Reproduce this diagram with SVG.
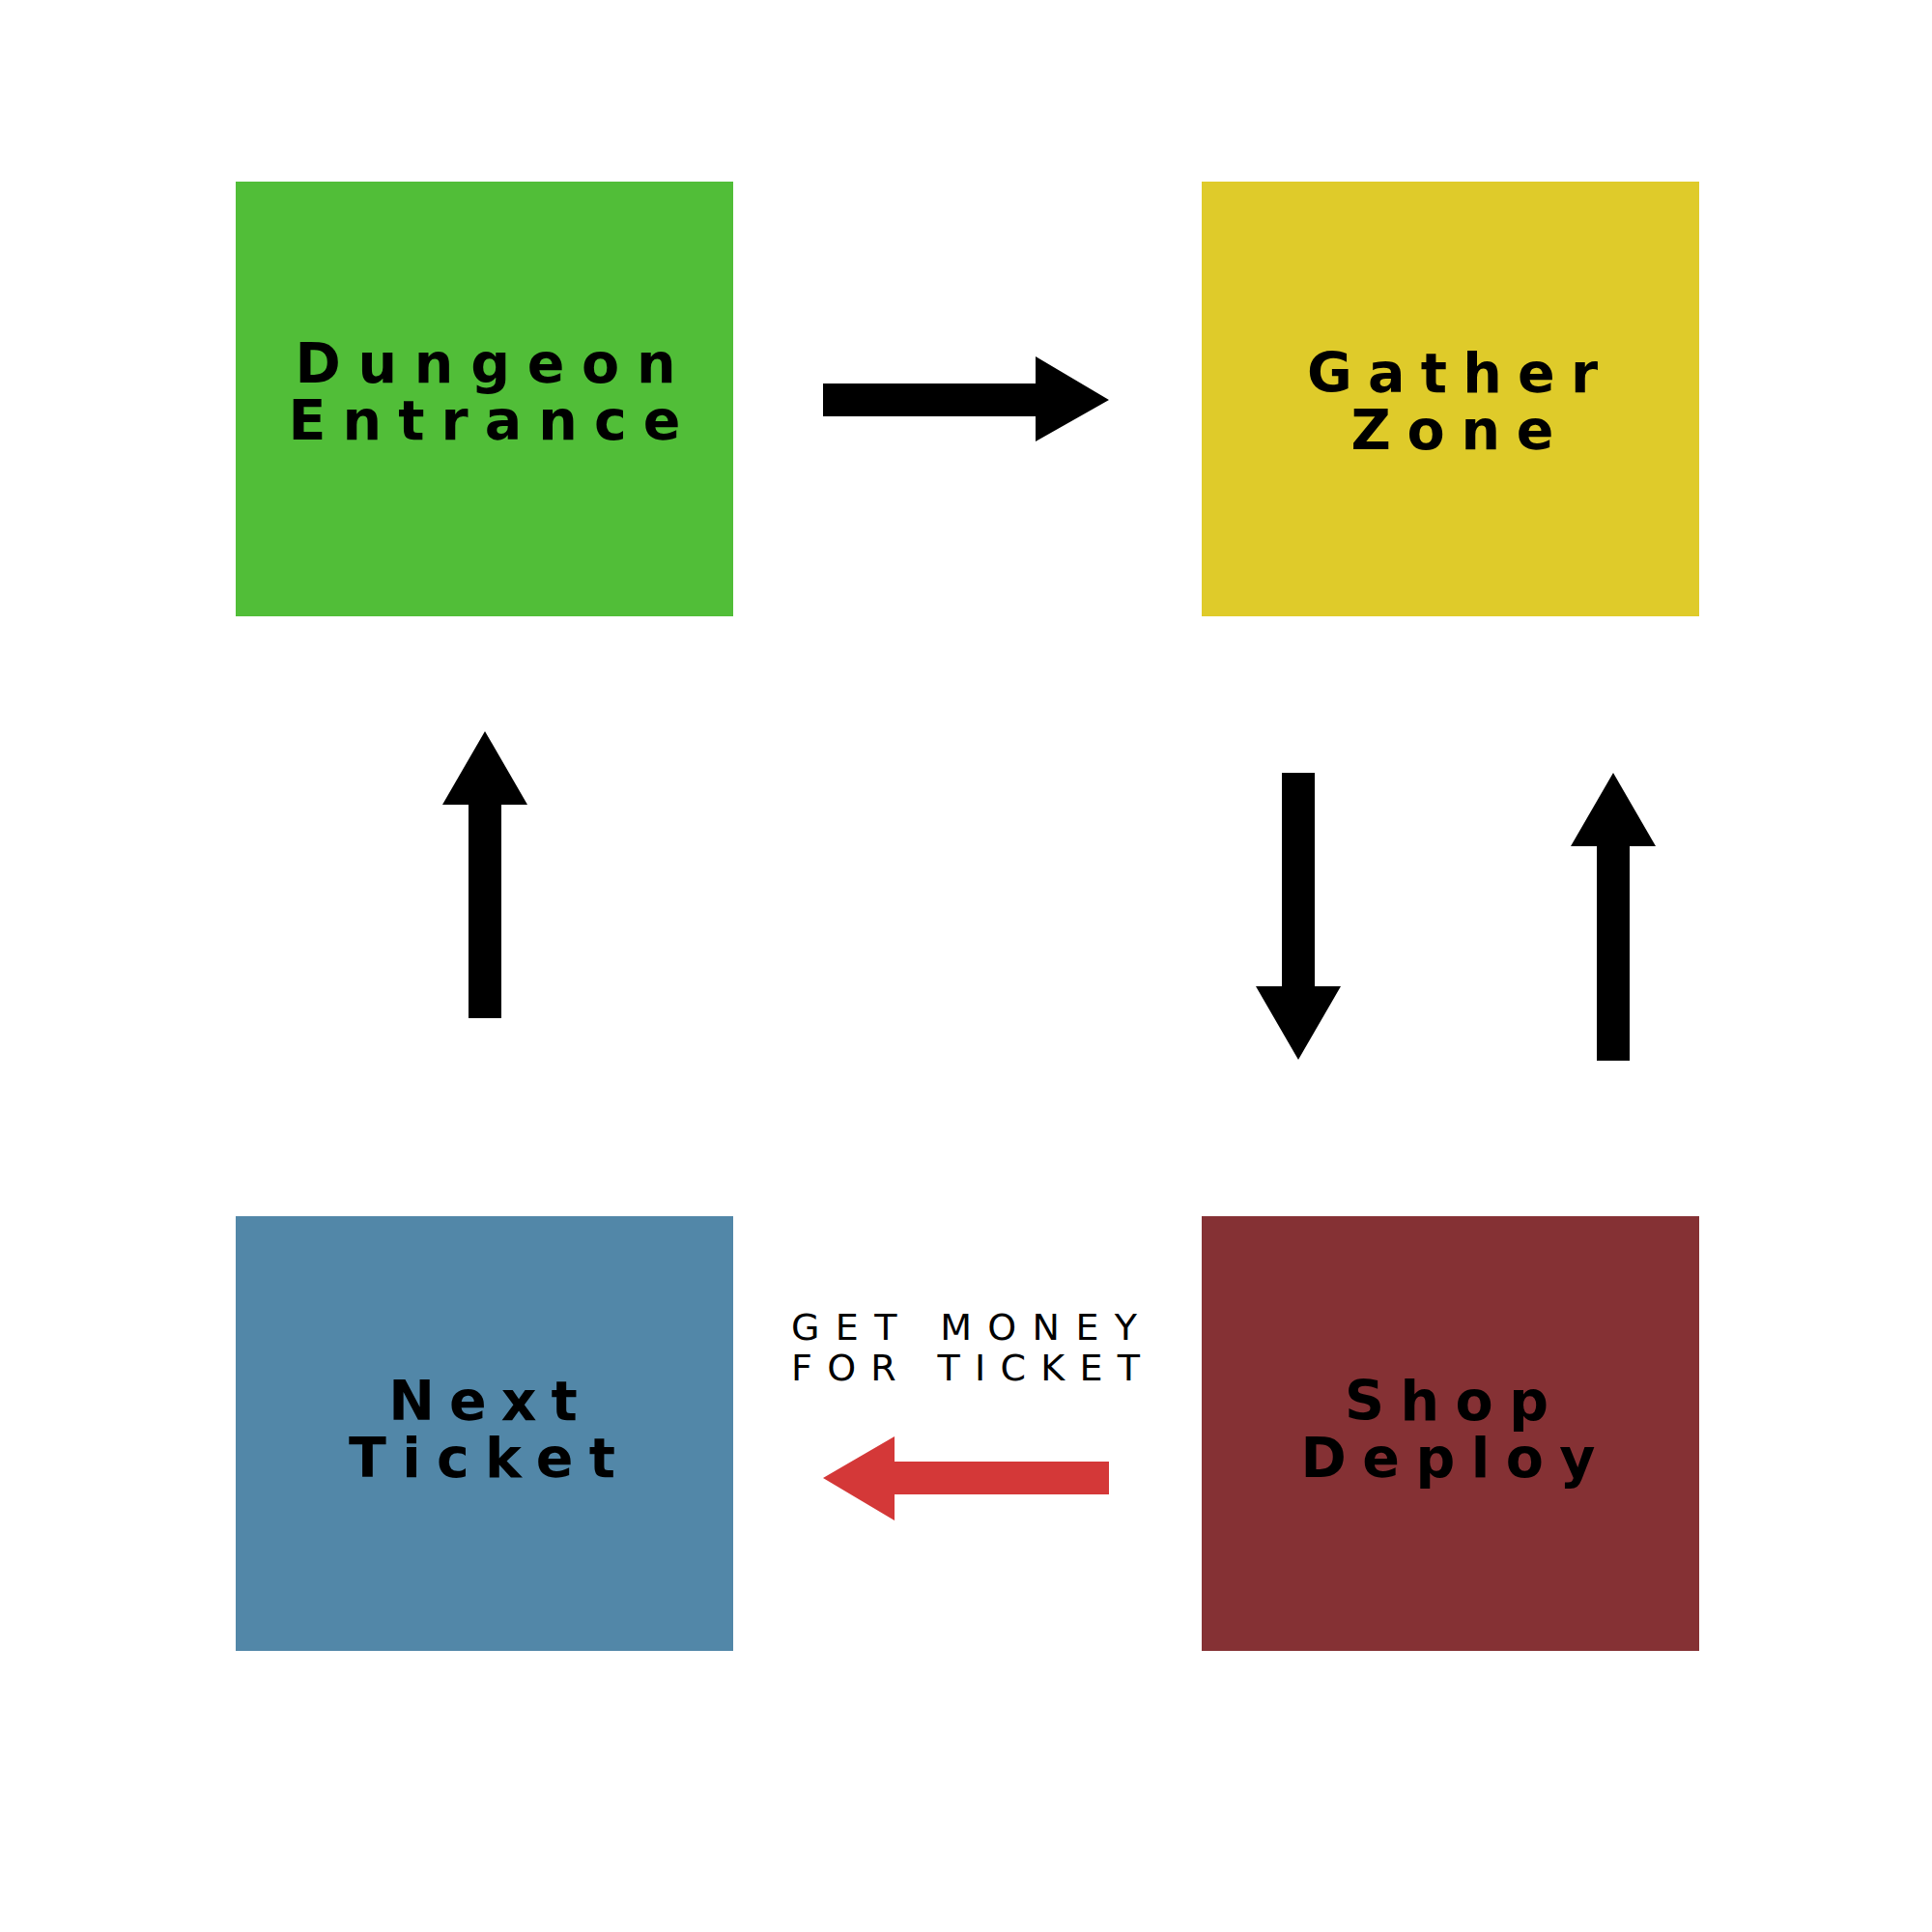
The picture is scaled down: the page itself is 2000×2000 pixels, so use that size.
<svg xmlns="http://www.w3.org/2000/svg" width="2000" height="2000" viewBox="0 0 2000 2000">
<style>
.lbl{font-family:"DejaVu Sans","Liberation Sans",sans-serif;font-weight:bold;font-size:57px;fill:#000;text-anchor:middle}
.note{font-family:"DejaVu Sans","Liberation Sans",sans-serif;font-weight:normal;font-size:38px;fill:#000;text-anchor:middle}
.blk{fill:#000}
.red{fill:#D43838}
</style>
<rect width="2000" height="2000" fill="#fff"/>
<g id="dungeon-entrance">
<rect x="244" y="188" width="515" height="450" fill="#51BE38"/>
<text class="lbl" x="502.5" y="396" textLength="394" lengthAdjust="spacing">Dungeon</text>
<text class="lbl" x="501.5" y="455" textLength="406" lengthAdjust="spacing">Entrance</text>
</g>
<g id="gather-zone">
<rect x="1244" y="188" width="515" height="450" fill="#DFCB2A"/>
<text class="lbl" x="1503.5" y="406" textLength="301" lengthAdjust="spacing">Gather</text>
<text class="lbl" x="1503.5" y="465" textLength="210" lengthAdjust="spacing">Zone</text>
</g>
<g id="next-ticket">
<rect x="244" y="1259" width="515" height="450" fill="#5287A8"/>
<text class="lbl" x="500" y="1470" textLength="195.5" lengthAdjust="spacing">Next</text>
<text class="lbl" x="499" y="1529" textLength="276" lengthAdjust="spacing">Ticket</text>
</g>
<g id="shop-deploy">
<rect x="1244" y="1259" width="515" height="450" fill="#853134"/>
<text class="lbl" x="1497.5" y="1470" textLength="211" lengthAdjust="spacing">Shop</text>
<text class="lbl" x="1499" y="1529" textLength="305" lengthAdjust="spacing">Deploy</text>
</g>
<g id="connectors">
<polygon class="blk" points="852,397 1072,397 1072,369 1148,414 1072,457 1072,431 852,431"/>
<polygon class="blk" points="1327,800 1361,800 1361,1021 1388,1021 1344,1097 1300,1021 1327,1021"/>
<polygon class="blk" points="1653,1098 1687,1098 1687,876 1714,876 1670,800 1626,876 1653,876"/>
<polygon class="blk" points="485,1054 519,1054 519,833 546,833 502,757 458,833 485,833"/>
<polygon class="red" points="1148,1513 926,1513 926,1487 852,1530 926,1574 926,1547 1148,1547"/>
<text class="note" x="998" y="1387" textLength="358" lengthAdjust="spacing">GET MONEY</text>
<text class="note" x="999.5" y="1429" textLength="361" lengthAdjust="spacing">FOR TICKET</text>
</g>
</svg>
